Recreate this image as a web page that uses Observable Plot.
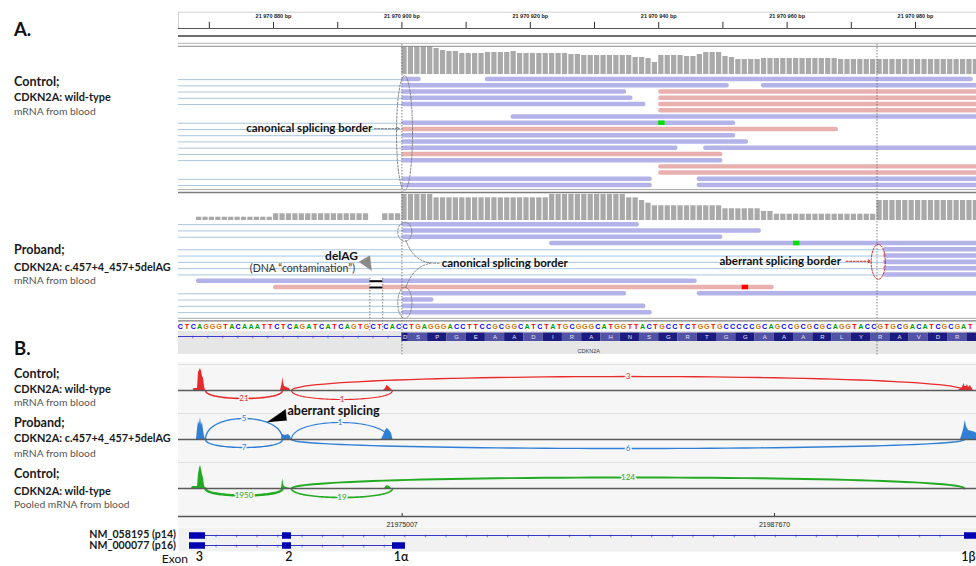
<!DOCTYPE html>
<html>
<head>
<meta charset="utf-8">
<script src="https://cdn.jsdelivr.net/npm/d3@7"></script>
<script src="https://cdn.jsdelivr.net/npm/@observablehq/plot@0.6"></script>
<style>
  html,body{margin:0;padding:0;background:#fff;}
  #fig{position:relative;width:976px;height:566px;overflow:hidden;background:#fff;}
</style>
</head>
<body>
<div id="fig"></div>
<script>
// ======================= DATA =======================
// Panel A (IGV read view), genomic window in bp
const viewA = [21970865.2, 21970989.5];
const rulerTicks = [21970870,21970880,21970890,21970900,21970910,21970920,21970930,21970940,21970950,21970960,21970970,21970980];
const rulerLabelTicks = [21970880,21970900,21970920,21970940,21970960,21970980];
const canonicalBorder = 21970900;
const aberrantBorder = 21970974;
const deletionStart = 21970895, deletionEnd = 21970897;

// coverage (relative depth), one value per bp
const controlCoverageStart = 21970900;
const controlCoverage = [28,28,28,28,28,26,24,23,23,21,21,21,21,22,22,22,22,23,21,21,21,21,21,21,21,21,20,20,19,19,19,19,19,19,19,19,17,17,16,12,19,19,19,19,18,18,20,22,22,22,18,17,15,15,15,15,16,16,16,16,16,16,16,16,16,16,16,16,15,15,15,15,15,15,15,15,15,15,15,15,15,15,15,15,15,15,15,15,15,15];
const probandCoverageStart = 21970868;
const probandCoverage = [3.3,3.3,3.3,3.3,3.3,3.3,3.3,3.3,3.3,3.3,3.3,3.3,6.7,6.7,6.7,6.7,6.7,6.7,6.7,6.7,6.7,6.7,6.7,6.7,6.7,6.7,6.7,0,0,6.7,6.7,6.7,26,26,26,26,26,22.7,22.7,22.7,22.7,22.7,22.7,22.7,22.7,22.7,22.7,22.7,22.7,22.7,22.7,22.7,22.7,22.7,22.7,26,26,26,26,26,26,26,26,26,26,26,26,22.7,22.7,20,17.3,14.7,14.7,14.7,14.7,14.7,14.7,14.7,14.7,14.7,14.7,14.7,11.7,11.7,11.7,11.7,11.7,11.7,9,9,6.3,6.3,6.3,6.3,6.3,6.3,6.3,6.3,6.3,6.3,6.3,6.3,6.3,6.3,6.3,6.3,20,20,20,20,20,20,20,20,20,20,20,20,20,20,20,20];

// reads: [row, start, end, strand (F/R), spliced from upstream exon (1/0)]
const controlReads = [
  [0,21970900,21970903,"R",1],[0,21970913,21970989,"R",0],
  [1,21970900,21970951,"R",1],[1,21970956,21970990,"R",0],
  [2,21970900,21970935,"R",1],[2,21970940,21970990,"F",0],
  [3,21970900,21970936,"R",1],[3,21970940,21970990,"F",0],
  [4,21970900,21970938,"R",1],[4,21970940,21970990,"F",0],
  [5,21970940,21970990,"F",0],
  [6,21970917,21970990,"R",0],
  [7,21970900,21970952,"R",1],
  [8,21970900,21970968,"F",1],
  [9,21970900,21970952,"R",1],
  [10,21970900,21970954,"R",1],
  [11,21970900,21970943,"R",1],[11,21970947,21970990,"R",0],
  [12,21970900,21970950,"F",1],
  [13,21970900,21970950,"R",1],
  [14,21970940,21970990,"F",0],
  [15,21970940,21970990,"F",0],
  [16,21970900,21970939,"R",1],[16,21970946,21970990,"R",0],
  [17,21970900,21970939,"R",1],[17,21970946,21970990,"R",0]
];
const probandReads = [
  [0,21970900,21970937,"R",1],
  [1,21970900,21970956,"R",1],
  [2,21970900,21970950,"R",1],
  [3,21970923,21970990,"R",0],
  [4,21970975,21970990,"R",1],
  [5,21970975,21970990,"R",1],
  [6,21970975,21970990,"R",1],
  [7,21970975,21970990,"R",1],
  [8,21970975,21970990,"R",1],
  [9,21970868,21970946,"R",0],
  [10,21970880,21970958,"F",0],
  [11,21970900,21970935,"R",1],[11,21970946,21970990,"R",0],
  [12,21970900,21970905,"R",1],
  [13,21970900,21970938,"R",1],
  [14,21970900,21970939,"R",1]
];
// mismatches: [row, bp, base]
const controlMismatches = [[7,21970940,"A"]];
const probandMismatches = [[3,21970961,"A"],[10,21970953,"T"]];
const probandDeletionRows = [9,10];

// reference sequence and translation
const refStart = 21970865;
const refSequence = "CTCAGGGTACAAATTCTCAGATCATCAGTGCTCAC" + "CTGAGGGACCTTCCGCGGCATCTATGCGGGCATGGTTACTGCCTCTGGTGCCCCCGCAGCCGCGCGCAGGTACC" + "GTGCGACATCGCGAT";
const codonStart = 21970898;
const aminoAcids = "DSPGEAADIRAHNSGRTGGAAARLYRAVDR";
const geneName = "CDKN2A";

// sample descriptions
const panelASamples = [
  ["Control;", "CDKN2A: wild-type", "mRNA from blood"],
  ["Proband;", "CDKN2A: c.457+4_457+5delAG", "mRNA from blood"]
];
const panelBSamples = [
  ["Control;", "CDKN2A: wild-type", "mRNA from blood"],
  ["Proband;", "CDKN2A: c.457+4_457+5delAG", "mRNA from blood"],
  ["Control;", "CDKN2A: wild-type", "Pooled mRNA from blood"]
];

// Panel B (sashimi), genomic window in bp
const viewB = [21967400, 21994540];
// coverage profiles [bp, relative depth]
const controlSashimiCoverage = [[21967910,0],[21967920,2],[21968046,2],[21968080,18],[21968148,22],[21968182,19],[21968216,14],[21968250,12],[21968284,4],[21968318,0],
  [21970869,0],[21970920,6],[21970947,13],[21970971,8],[21971005,4],[21971073,3],[21971175,2],[21971209,0],
  [21974372,0],[21974440,2],[21974491,5],[21974542,4],[21974610,2],[21974678,0],
  [21993928,0],[21994064,3],[21994115,7],[21994149,4],[21994200,4],[21994234,6],[21994268,3],[21994336,5],[21994370,3],[21994438,0]];
const probandSashimiCoverage = [[21968012,0],[21968046,10],[21968080,18],[21968114,15],[21968148,22],[21968182,14],[21968216,17],[21968250,9],[21968284,3],[21968318,0],
  [21970903,0],[21970937,5],[21971039,4],[21971141,5],[21971209,3],[21971243,0],
  [21974304,0],[21974372,4],[21974440,9],[21974498,11],[21974576,9],[21974644,6],[21974695,0],
  [21993996,0],[21994064,6],[21994115,12],[21994156,19],[21994200,13],[21994268,9],[21994404,8],[21994506,7],[21994540,6]];
const pooledSashimiCoverage = [[21967842,0],[21967876,2],[21968046,2],[21968080,14],[21968114,20],[21968148,23],[21968182,19],[21968216,14],[21968250,10],[21968284,3],[21968318,0],
  [21970903,0],[21970947,10],[21970971,4],[21971005,2],[21971073,1],[21971209,0],
  [21974406,0],[21974491,3],[21974576,2],[21974644,0]];
// junctions [start, end, read count]
const controlJunctions = [[21968318,21970937,21],[21971243,21974678,1],[21971243,21994132,3]];
const probandJunctions = [[21968318,21970937,5],[21968318,21970937,7],[21971243,21974550,1],[21971243,21994132,6]];
const pooledJunctions = [[21968318,21970937,1950],[21971243,21974678,19],[21971243,21994132,124]];
const axisTicks = [21975007, 21987670];
const transcripts = ["NM_058195 (p14)", "NM_000077 (p16)"];
const p14Exons = [[21967774,21968318],[21970937,21971243],[21994132,21994540]];
const p16Exons = [[21967774,21968318],[21970937,21971243],[21974678,21975120]];
const exonNames = ["3","2","1α","1β"];

// ======================= DRAWING =======================
const fig = document.getElementById("fig");
const FONT = "Lato, 'Noto Sans', sans-serif";
const W = 798, LEFT = 178;
function place(node, top, left = LEFT) {
  node.style.position = "absolute";
  node.style.top = top + "px";
  node.style.left = left + "px";
  fig.appendChild(node);
}
const styleT = {background: "transparent", overflow: "visible", fontFamily: FONT};
function plotA(opts) {
  return Plot.plot({width: W, marginLeft: 0, marginRight: 0, marginTop: 0, marginBottom: 0,
    x: {domain: viewA, axis: null}, style: styleT, ...opts});
}
const PURPLE = "#b3b3ea", PINK = "#e9b0b0", SPLICE = "#a9c5dd";
const baseColor = {A: "#00a000", C: "#0000ff", G: "#d17105", T: "#ff0000"};
const ellipse = (cx, cy, rx, ry) => d3.range(0, 2 * Math.PI + 0.05, Math.PI / 48).map(t => ({x: cx + rx * Math.cos(t), y: cy + ry * Math.sin(t)}));
const one = [0];

// ---- ruler
place(plotA({height: 29, marginTop: 11.7, marginBottom: 1, y: {domain: [0, 1], axis: null}, marks: [
  Plot.ruleY([1], {stroke: "#d0d0d0"}),
  Plot.ruleX([viewA[0]], {stroke: "#d0d0d0"}),
  Plot.ruleY([0], {stroke: "#555", strokeWidth: 1.2}),
  Plot.ruleX(rulerTicks, {x: d => d, y1: () => 0, y2: () => 0.38, stroke: "#333"}),
  Plot.text(rulerLabelTicks, {x: d => d, y: () => 1, dy: 4.5, text: d => d3.format(",")(d).replace(/,/g, " ") + " bp",
    fontSize: 5.5, fontWeight: "bold", fill: "#222", fontFamily: "Liberation Sans"})
]}), 0);

// ---- coverage tracks
function coveragePlot(start, values) {
  const rows = values.map((v, i) => ({bp: start + i, v}));
  return plotA({height: 30, y: {domain: [0, 30], axis: null}, marks: [
    Plot.rect(rows.filter(d => d.v > 0), {x1: "bp", x2: d => d.bp + 1, y1: () => 0, y2: "v", fill: "#a9a9a9", insetRight: 1.2})
  ]});
}
place(coveragePlot(controlCoverageStart, controlCoverage), 44.3);
place(coveragePlot(probandCoverageStart, probandCoverage), 190);

// ---- reads tracks
function readsPlot(reads, mismatches, nRows, height, extra) {
  const R = reads.map(([row, start, end, strand, spliced]) => ({row, start, end, strand, spliced}));
  const M = mismatches.map(([row, bp, base]) => ({row, bp, base}));
  return plotA({height, y: {domain: [-0.5, nRows - 0.5], reverse: true, axis: null}, marks: [
    Plot.ruleY(R.filter(d => d.spliced), {y: "row", x1: () => viewA[0], x2: "start", stroke: SPLICE, strokeWidth: 1}),
    Plot.rect(R.filter(d => d.strand === "R"), {x1: "start", x2: "end", y1: d => d.row - 0.36, y2: d => d.row + 0.36, fill: PURPLE, rx: 2}),
    Plot.rect(R.filter(d => d.strand === "F"), {x1: "start", x2: "end", y1: d => d.row - 0.36, y2: d => d.row + 0.36, fill: PINK, rx: 2}),
    ...Object.keys(baseColor).map(b => Plot.rect(M.filter(d => d.base === b), {x1: "bp", x2: d => d.bp + 1, y1: d => d.row - 0.36, y2: d => d.row + 0.36, fill: b === "A" ? "#00e000" : baseColor[b]})),
    ...extra
  ]});
}
const dashGray = {stroke: "#7a7a7a", strokeWidth: 0.9, strokeDasharray: "2,1.5", fill: "none"};
const annot = {fontWeight: "bold", fontSize: 11.5, fill: "#111"};

place(readsPlot(controlReads, controlMismatches, 18, 112.2, [
  Plot.line(ellipse(canonicalBorder + 0.4, 8.58, 1.25, 9.22), {x: "x", y: "y", ...dashGray}),
  Plot.text(["canonical splicing border"], {x: () => 21970895.4, y: () => 7.86, text: d => d, textAnchor: "end", ...annot}),
  Plot.arrow(one, {x1: () => 21970895.7, x2: () => 21970899.6, y1: () => 7.86, y2: () => 7.86, stroke: "#777", strokeWidth: 0.9, strokeDasharray: "2,1.5", headLength: 4})
]), 75.9);

// arrowhead pointing at the deletion (bp, row units)
const delArrowHead = [{x: 21970893.3, y: 5.95}, {x: 21970895.0, y: 4.95}, {x: 21970895.25, y: 7.3}];
place(readsPlot(probandReads, probandMismatches, 15, 94.3, [
  Plot.rect(probandDeletionRows, {x1: () => deletionStart, x2: () => deletionEnd, y1: d => d - 0.4, y2: d => d + 0.4, fill: "white"}),
  Plot.ruleY(probandDeletionRows, {y: d => d, x1: () => deletionStart, x2: () => deletionEnd, stroke: "#000", strokeWidth: 2}),
  Plot.ruleX([deletionStart, deletionEnd], {x: d => d, y1: () => 8.55, y2: () => 17.4, stroke: "#666", strokeWidth: 0.8, strokeDasharray: "1.5,1.5"}),
  Plot.line(ellipse(canonicalBorder + 0.45, 1.14, 1.1, 1.51), {x: "x", y: "y", ...dashGray}),
  Plot.line(ellipse(canonicalBorder + 0.45, 12.43, 1.1, 2.47), {x: "x", y: "y", ...dashGray}),
  Plot.line([{x: 21970900.6, y: 2.49}, {x: 21970901.4, y: 4.4}, {x: 21970902.8, y: 5.7}, {x: 21970904.4, y: 6.15}, {x: 21970906, y: 6.15}], {x: "x", y: "y", curve: "basis", ...dashGray}),
  Plot.line([{x: 21970900.6, y: 9.97}, {x: 21970901.4, y: 8.06}, {x: 21970902.8, y: 6.6}, {x: 21970904.4, y: 6.15}], {x: "x", y: "y", curve: "basis", ...dashGray}),
  Plot.text(["canonical splicing border"], {x: () => 21970906.2, y: () => 6.15, text: d => d, textAnchor: "start", ...annot}),
  Plot.line(ellipse(aberrantBorder + 0.2, 5.91, 1.1, 2.78), {x: "x", y: "y", stroke: "#d42020", strokeWidth: 1, strokeDasharray: "2,1.5", fill: "none"}),
  Plot.text(["aberrant splicing border"], {x: () => 21970968.4, y: () => 5.83, text: d => d, textAnchor: "end", ...annot}),
  Plot.arrow(one, {x1: () => 21970969.2, x2: () => 21970973.0, y1: () => 5.83, y2: () => 5.83, stroke: "#d42020", strokeWidth: 1, strokeDasharray: "2,1.5", headLength: 4}),
  Plot.text(["delAG"], {x: () => 21970890.6, y: () => 4.96, text: d => d, fontWeight: "bold", fontSize: 12, fill: "#111"}),
  Plot.text(["(DNA \u201ccontamination\u201d)"], {x: () => 21970884.5, y: () => 6.94, text: d => d, fontSize: 10.6, fill: "#333"}),
  Plot.line(delArrowHead, {x: "x", y: "y", fill: "#8a8a8a", stroke: "#8a8a8a", strokeWidth: 0.5})
]), 221.2);

// ---- reference sequence, translation and gene track
const bases = refSequence.split("").map((b, i) => ({bp: refStart + i, b}));
const codons = d3.range(aminoAcids.length + 1).map(i => ({i, s: codonStart + 3 * i, a: aminoAcids[i] || ""}));
const seqY = {domain: [0, 34], range: [0, 34], axis: null};
place(plotA({height: 34, y: seqY, marks: [
  Plot.rect(one, {x1: () => viewA[0], x2: () => viewA[1], y1: () => 11, y2: () => 34, fill: "#e6e6e6"}),
  Plot.ruleY([16], {y: d => d, x1: () => viewA[0], x2: () => canonicalBorder, stroke: "#3b3bd0", strokeWidth: 1}),
  Plot.text(d3.range(viewA[0] + 2.2, canonicalBorder - 0.8, 2.34), {x: d => d, y: () => 15.6, text: () => "\u2039", fontSize: 8, fill: "#3b3bd0"}),
  Plot.rect(codons, {x1: d => Math.max(d.s, canonicalBorder), x2: d => Math.min(d.s + 3, viewA[1]), y1: () => 12.5, y2: () => 21, fill: d => d.i % 2 ? "#5252a6" : "#1c1c80"}),
  Plot.text(codons, {x: d => (Math.max(d.s, canonicalBorder) + d.s + 3) / 2, y: () => 16.9, text: "a", fontSize: 6, fill: "#e4e4f4", fontFamily: "Liberation Sans"}),
  ...Object.keys(baseColor).map(b => Plot.text(bases.filter(d => d.b === b), {x: d => d.bp + 0.5, y: () => 6.5, text: "b", fill: baseColor[b], fontWeight: "bold", fontSize: 7.2, fontFamily: "Liberation Sans"})),
  Plot.text([geneName], {x: () => 21970929.1, y: () => 30.6, text: d => d, fontSize: 5.5, fill: "#444", fontFamily: "Liberation Sans"})
]}), 320);

// ---- splice borders across panel A
place(plotA({height: 311, marks: [
  Plot.ruleX([canonicalBorder, aberrantBorder], {x: d => d, stroke: "#666", strokeWidth: 0.8, strokeDasharray: "1.5,1.5"})
]}), 44);

// ---- sashimi tracks
const arcPoints = (s, e, b) => d3.range(0, 1.0001, 1 / 60).map(t => ({x: s + (e - s) * (3 * t * t * (1 - t) + t * t * t), y: 4 * b * t * (1 - t)}));
const arcBulges = {control: [-8, -9, 14], proband: [21, -8, 17, -9], pooled: [-7, -9, 11]};
const SASHBG = "#f6f6f6";
function sashimiPlot(cov, junctions, bulges, color, height, yMax, extra = []) {
  const arcs = junctions.map(([s, e, c], i) => ({s, e, c, b: bulges[i]}));
  return Plot.plot({width: W, height, marginLeft: 0, marginRight: 0, marginTop: 0, marginBottom: 0,
    x: {domain: viewB, axis: null}, y: {domain: [-23, yMax], axis: null},
    style: {...styleT, background: SASHBG},
    marks: [
      Plot.ruleY([26], {stroke: "#e0e0e0"}),
      Plot.area(cov.map(([x, h]) => ({x, h})), {x1: "x", y1: () => 0, y2: "h", fill: color}),
      ...arcs.map(a => Plot.line(arcPoints(a.s, a.e, a.b), {x: "x", y: "y", stroke: color, strokeWidth: 1 + 0.45 * Math.log10(a.c + 1)})),
      Plot.ruleY([0], {stroke: "#5a5a5a", strokeWidth: 1.3}),
      Plot.text(arcs, {x: d => (d.s + d.e) / 2, y: "b", text: d => String(d.c), fill: color, stroke: SASHBG, strokeWidth: 3, fontSize: 8}),
      ...extra
    ]});
}
// arrowhead pointing at the aberrant junction (bp, track units)
const aberrantArrowHead = [{x: 21970417, y: 17.3}, {x: 21971039, y: 30}, {x: 21971073, y: 19}];
place(sashimiPlot(controlSashimiCoverage, controlJunctions, arcBulges.control, "#ea2a2a", 51, 28), 362);
place(sashimiPlot(probandSashimiCoverage, probandJunctions, arcBulges.proband, "#2f7fd6", 49, 26, [
  Plot.line(aberrantArrowHead, {x: "x", y: "y", fill: "#000", stroke: "#000", strokeWidth: 0.5}),
  Plot.text(["aberrant splicing"], {x: () => 21971107, y: () => 28.3, text: d => d, textAnchor: "start", fontWeight: "bold", fontSize: 12.5, fill: "#111"})
]), 413);
place(sashimiPlot(pooledSashimiCoverage, pooledJunctions, arcBulges.pooled, "#22aa22", 49, 26), 462);

// ---- genomic axis
place(Plot.plot({width: W, height: 16, marginLeft: 0, marginRight: 0, marginTop: 0, marginBottom: 0,
  x: {domain: viewB, axis: null}, y: {domain: [0, 16], range: [0, 16], axis: null},
  style: {...styleT, background: SASHBG},
  marks: [
    Plot.ruleY([5], {y: d => d, stroke: "#555", strokeWidth: 1.3}),
    Plot.ruleX(axisTicks, {x: d => d, y1: () => 2, y2: () => 5, stroke: "#333"}),
    Plot.text(axisTicks, {x: d => d, y: () => 13, text: d => String(d), fontSize: 7, fill: "#222", fontFamily: "Liberation Sans"})
  ]}), 511);

// ---- gene models
const models = [[transcripts[0], p14Exons], [transcripts[1], p16Exons]];
const exonRows = models.flatMap(([t, ex]) => ex.map(([s, e]) => ({t, s, e})));
const intronRows = models.map(([t, ex]) => ({t, s: ex[0][1], e: ex[ex.length - 1][0]}));
const chevrons = models.flatMap(([t, ex]) => d3.range(1, ex.length).flatMap(k => d3.range(ex[k - 1][1] + 350, ex[k][0] - 150, 700).map(x => ({t, x}))));
const exonLabelRows = [p16Exons[0], p16Exons[1], p16Exons[2], p14Exons[2]].map(([s, e], i) => ({s, e, x: (s + e) / 2, name: exonNames[i]}));
const exonLabelStyle = {text: "name", frameAnchor: "bottom", dy: 9.5, fontSize: 12.5, fontWeight: 600, fill: "#111"};
place(Plot.plot({width: W, height: 39, marginLeft: 0, marginRight: 0, marginTop: 0, marginBottom: 15,
  x: {domain: viewB, axis: null}, y: {type: "point", domain: transcripts, range: [7.8, 17.8], padding: 0, axis: null},
  style: styleT,
  marks: [
    Plot.frame({fill: "#f1f1f1", stroke: "none"}),
    Plot.ruleY(intronRows, {y: "t", x1: "s", x2: "e", stroke: "#3535c8", strokeWidth: 1}),
    Plot.text(chevrons, {x: "x", y: "t", text: () => "\u2039", fontSize: 8, fill: "#3535c8"}),
    Plot.ruleY(exonRows, {y: "t", x1: "s", x2: "e", stroke: "#0000b0", strokeWidth: 6.5}),
    Plot.text(exonLabelRows.slice(0, 3), {x: "x", dx: 2, ...exonLabelStyle}),
    Plot.text(exonLabelRows.slice(3), {x: "e", textAnchor: "end", dx: -1, ...exonLabelStyle})
  ]}), 527);

// ---- left-side labels and IGV track separators
const svg = d3.select(fig).append("svg").attr("width", 976).attr("height", 566)
  .style("position", "absolute").style("left", "0px").style("top", "0px").style("font-family", FONT);
const seps = [[36, "#6e6e6e", 2.2], [43.3, "#b4b4b4", 1], [46.3, "#8c8c8c", 1], [189.6, "#a8a8a8", 1], [192.5, "#7c7c7c", 1.3], [318.3, "#a8a8a8", 1], [320.8, "#7c7c7c", 1.2]];
svg.selectAll("line.sep").data(seps).join("line").attr("x1", LEFT).attr("x2", 976)
  .attr("y1", d => d[0]).attr("y2", d => d[0]).attr("stroke", d => d[1]).attr("stroke-width", d => d[2]);
function label(text, x, y, size, weight, color, anchor = "start") {
  svg.append("text").attr("x", x).attr("y", y).attr("font-size", size).attr("font-weight", weight)
    .attr("fill", color).attr("text-anchor", anchor).text(text);
}
label("A.", 14, 36, 18.5, 700, "#111");
label("B.", 14, 355, 18.5, 700, "#111");
const blockA = [[86, 101, 115], [254, 271, 284]];
const blockB = [[378, 392.7, 406], [427, 442, 457], [478, 495, 508]];
function sampleBlock(sample, ys) {
  label(sample[0], 14, ys[0], 12.6, 700, "#1a1a1a");
  label(sample[1], 14, ys[1], 10.9, 700, "#1a1a1a");
  label(sample[2], 14, ys[2], 10.3, 400, "#555");
}
panelASamples.forEach((s, i) => sampleBlock(s, blockA[i]));
panelBSamples.forEach((s, i) => sampleBlock(s, blockB[i]));
label(transcripts[0], 176, 538, 10.6, 700, "#1a1a1a", "end");
label(transcripts[1], 176, 548.5, 10.6, 700, "#1a1a1a", "end");
label("Exon", 188, 563, 12, 400, "#111", "end");
</script>
</body>
</html>
